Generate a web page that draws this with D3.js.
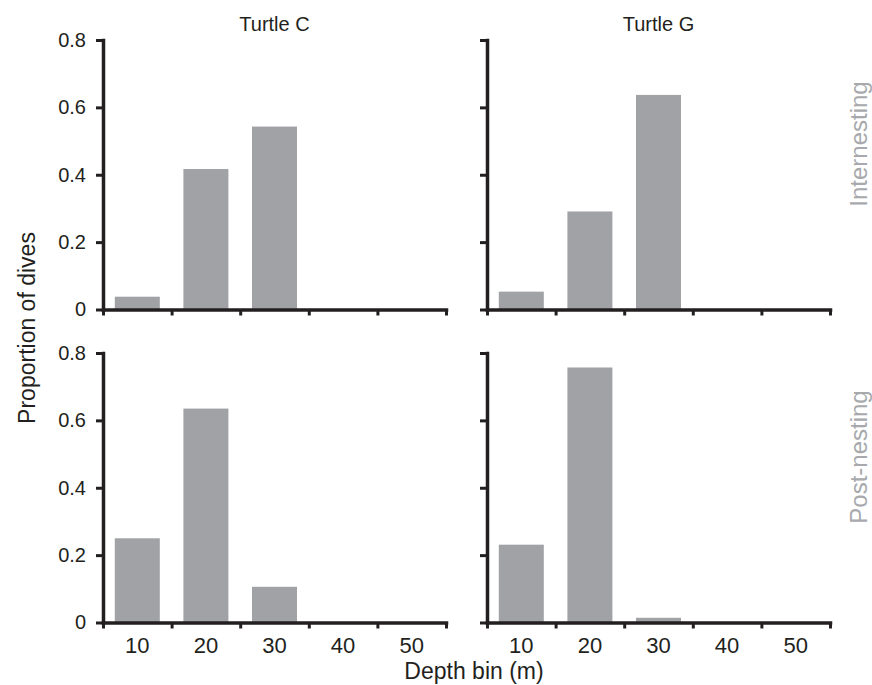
<!DOCTYPE html>
<html>
<head>
<meta charset="utf-8">
<script src="https://cdn.jsdelivr.net/npm/d3@7"></script>
<style>
  body { margin: 0; background: #fff; }
  svg { display: block; font-family: "Liberation Sans", Arial, sans-serif; }
</style>
</head>
<body>
<svg id="chart" width="872" height="685"></svg>
<script>
// depth bins (m) and proportion of dives per bin
const depthBins = [10, 20, 30, 40, 50];
const binEdges = [5, 15, 25, 35, 45, 55];
const yTicks = [0, 0.2, 0.4, 0.6, 0.8];

const turtleCInternesting = [0.038, 0.417, 0.543, 0, 0];
const turtleGInternesting = [0.053, 0.291, 0.637, 0, 0];
const turtleCPostNesting = [0.25, 0.635, 0.106, 0, 0];
const turtleGPostNesting = [0.231, 0.757, 0.014, 0, 0];

const turtles = ["Turtle C", "Turtle G"];
const phases = ["Internesting", "Post-nesting"];

const panels = [
  { col: 0, row: 0, values: turtleCInternesting },
  { col: 1, row: 0, values: turtleGInternesting },
  { col: 0, row: 1, values: turtleCPostNesting },
  { col: 1, row: 1, values: turtleGPostNesting },
];

const ink = "#231f20";
const barColor = "#a1a2a5";
const pw = 343, ph = 269.5;
const colX = [103, 487];
const rowY = [40, 353];

const svg = d3.select("#chart");

const x = d3.scaleBand().domain(depthBins).range([0, pw])
  .paddingInner(0.344).paddingOuter(0.172);
const xEdge = d3.scaleLinear().domain([5, 55]).range([0, pw]);
const y = d3.scaleLinear().domain([0, 0.8]).range([ph, 0]);

panels.forEach((p) => {
  const g = svg.append("g")
    .attr("transform", `translate(${colX[p.col]},${rowY[p.row]})`);

  g.selectAll("rect")
    .data(p.values.map((v, i) => ({ bin: depthBins[i], v })))
    .join("rect")
    .attr("x", (d) => x(d.bin))
    .attr("width", x.bandwidth())
    .attr("y", (d) => y(d.v))
    .attr("height", (d) => ph - y(d.v))
    .attr("fill", barColor);

  // y axis
  const ya = g.append("g")
    .call(d3.axisLeft(y).tickValues(yTicks).tickSize(7).tickSizeOuter(0)
      .tickPadding(10)
      .tickFormat(p.col === 0 ? (d) => (d === 0 ? "0" : d3.format(".1f")(d)) : ""));

  // x axis: ticks at bin edges
  const xa = g.append("g")
    .attr("transform", `translate(0,${ph})`)
    .call(d3.axisBottom(xEdge).tickValues(binEdges).tickSize(6).tickSizeOuter(0).tickFormat(""));

  // bin labels, only on bottom row
  if (p.row === 1) {
    g.append("g")
      .attr("transform", `translate(0,${ph})`)
      .attr("font-family", null)
      .call(d3.axisBottom(x).tickSize(0).tickPadding(15))
      .call((a) => a.select(".domain").remove())
      .selectAll("text")
      .attr("font-size", 22)
      .attr("fill", ink);
  }

  [ya, xa].forEach((a) => {
    a.attr("font-family", null);
    a.selectAll(".domain").attr("stroke", ink).attr("stroke-width", 3.5).attr("stroke-linecap", "square");
    a.selectAll(".tick line").attr("stroke", ink).attr("stroke-width", 3);
  });
  ya.selectAll("text").attr("font-size", 20).attr("fill", ink);
});

// column titles
svg.selectAll(".title")
  .data(turtles)
  .join("text")
  .attr("class", "title")
  .attr("x", (d, i) => colX[i] + pw / 2)
  .attr("y", 31)
  .attr("text-anchor", "middle")
  .attr("font-size", 20)
  .attr("fill", ink)
  .text((d) => d);

// row labels on right
svg.selectAll(".phase")
  .data(phases)
  .join("text")
  .attr("class", "phase")
  .attr("transform", (d, i) => `translate(867,${rowY[i] + 104}) rotate(-90)`)
  .attr("text-anchor", "middle")
  .attr("font-size", 24)
  .attr("fill", "#a7a9ac")
  .text((d) => d);

// axis titles
svg.append("text")
  .attr("transform", "translate(35,328) rotate(-90)")
  .attr("text-anchor", "middle")
  .attr("font-size", 23)
  .attr("fill", ink)
  .text("Proportion of dives");

svg.append("text")
  .attr("x", 474)
  .attr("y", 679)
  .attr("text-anchor", "middle")
  .attr("font-size", 23)
  .attr("fill", ink)
  .text("Depth bin (m)");
</script>
</body>
</html>
